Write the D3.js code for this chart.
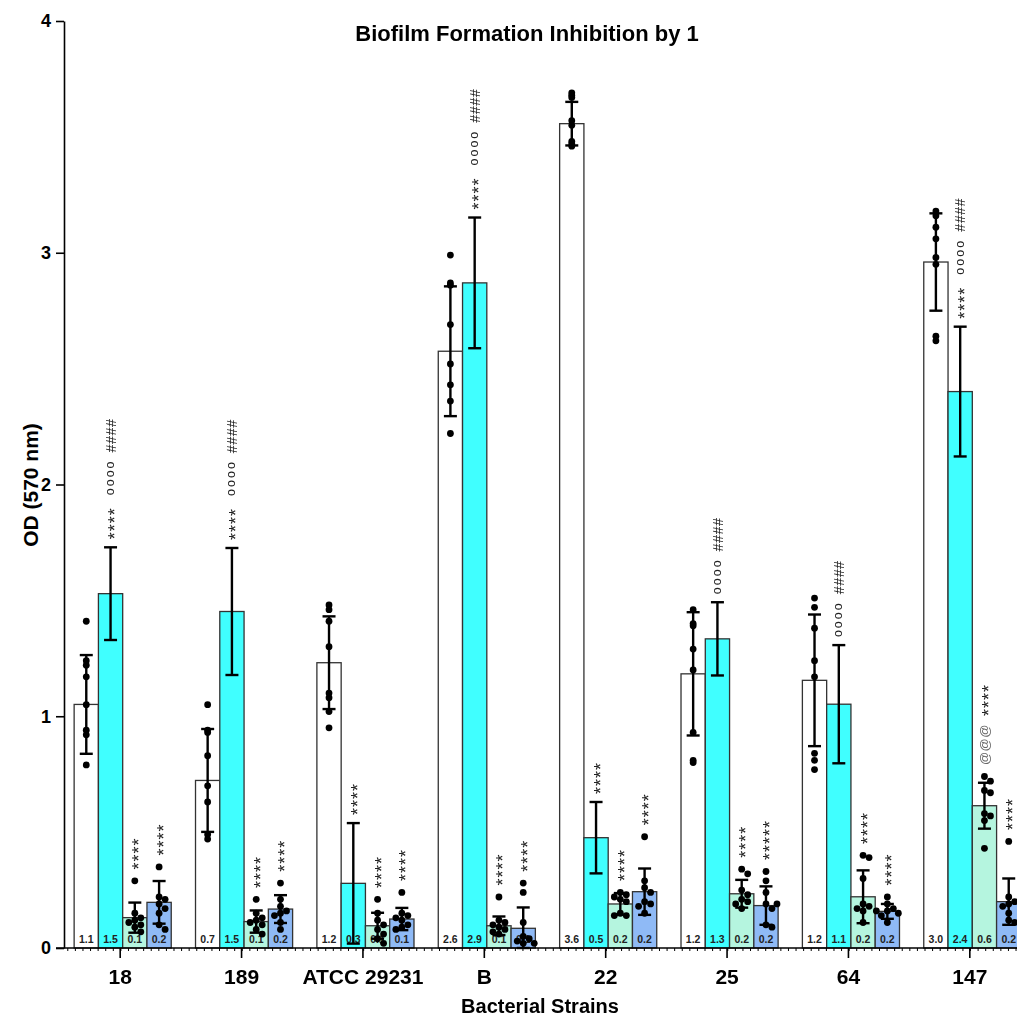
<!DOCTYPE html>
<html>
<head>
<meta charset="utf-8">
<script src="https://cdn.jsdelivr.net/npm/d3@7/dist/d3.min.js"></script>
<style>
  html, body { margin: 0; padding: 0; background: #fff; }
  svg { display: block; font-family: "Liberation Sans", Arial, Helvetica, sans-serif; }
  .marks { opacity: 0.999; will-change: transform; }
</style>
</head>
<body>
<svg id="chart" width="1017" height="1017"></svg>
<script>
// ---- data ----
const strains = ["18", "189", "ATCC 29231", "B", "22", "25", "64", "147"];
const seriesKeys = ["untreated", "dose1", "dose2", "dose3"];
const seriesFill = ["#ffffff", "#40ffff", "#b5f5df", "#8fbaf6"];

// mean OD per strain
const untreatedMean = [1.051, 0.723, 1.231, 2.575, 3.557, 1.183, 1.155, 2.960];
const dose1Mean     = [1.529, 1.452, 0.279, 2.870, 0.476, 1.334, 1.052, 2.401];
const dose2Mean     = [0.131, 0.114, 0.096, 0.096, 0.190, 0.234, 0.221, 0.614];
const dose3Mean     = [0.197, 0.168, 0.125, 0.085, 0.243, 0.183, 0.158, 0.200];

// standard deviation per strain
const untreatedSD = [0.213, 0.222, 0.200, 0.280, 0.094, 0.266, 0.284, 0.210];
const dose1SD     = [0.200, 0.274, 0.260, 0.282, 0.154, 0.158, 0.255, 0.280];
const dose2SD     = [0.065, 0.048, 0.056, 0.040, 0.047, 0.060, 0.114, 0.099];
const dose3SD     = [0.092, 0.060, 0.048, 0.090, 0.100, 0.083, 0.032, 0.100];

// individual replicates (dose1 replicates are not plotted)
const untreatedPts = [
  [1.41, 1.24, 1.22, 1.17, 1.05, 0.94, 0.92, 0.79],
  [1.05, 0.94, 0.93, 0.83, 0.70, 0.63, 0.49, 0.47],
  [1.48, 1.46, 1.41, 1.30, 1.10, 1.08, 1.02, 0.95],
  [2.99, 2.87, 2.86, 2.69, 2.52, 2.43, 2.36, 2.22],
  [3.69, 3.68, 3.67, 3.57, 3.55, 3.48, 3.47, 3.46],
  [1.46, 1.40, 1.39, 1.29, 1.20, 0.93, 0.81, 0.80],
  [1.51, 1.47, 1.38, 1.24, 1.17, 0.84, 0.81, 0.77],
  [3.18, 3.16, 3.11, 3.06, 2.98, 2.95, 2.64, 2.62]
];
const dose2Pts = [
  [0.29, 0.15, 0.13, 0.12, 0.11, 0.10, 0.09, 0.07],
  [0.21, 0.15, 0.13, 0.12, 0.11, 0.10, 0.08, 0.06],
  [0.21, 0.15, 0.12, 0.10, 0.08, 0.06, 0.04, 0.02],
  [0.22, 0.12, 0.11, 0.10, 0.09, 0.08, 0.07, 0.06],
  [0.24, 0.23, 0.22, 0.21, 0.20, 0.15, 0.14, 0.14],
  [0.34, 0.32, 0.25, 0.23, 0.21, 0.20, 0.19, 0.17],
  [0.40, 0.39, 0.30, 0.19, 0.18, 0.17, 0.16, 0.11],
  [0.74, 0.72, 0.68, 0.67, 0.58, 0.57, 0.55, 0.43]
];
const dose3Pts = [
  [0.35, 0.22, 0.21, 0.19, 0.17, 0.15, 0.10, 0.08],
  [0.28, 0.21, 0.18, 0.16, 0.15, 0.14, 0.11, 0.08],
  [0.24, 0.15, 0.14, 0.13, 0.12, 0.10, 0.09, 0.08],
  [0.28, 0.24, 0.11, 0.05, 0.04, 0.03, 0.02, 0.02],
  [0.48, 0.29, 0.26, 0.24, 0.20, 0.19, 0.18, 0.15],
  [0.33, 0.29, 0.24, 0.19, 0.19, 0.17, 0.10, 0.09],
  [0.22, 0.19, 0.17, 0.16, 0.16, 0.15, 0.14, 0.11],
  [0.46, 0.22, 0.20, 0.19, 0.18, 0.15, 0.12, 0.11]
];

// significance marks, listed from bottom to top
const dose1Marks = [["****","oooo","####"], ["****","oooo","####"], ["****"], ["****","oooo","####"],
                    ["****"], ["oooo","####"], ["oooo","####"], ["****","oooo","####"]];
const dose2Marks = [["****"], ["****"], ["****"], ["****"], ["****"], ["****"], ["****"], ["@@@","****"]];
const dose3Marks = [["****"], ["****"], ["****"], ["****"], ["****"], ["*****"], ["****"], ["****"]];

const yTicks = [0, 1, 2, 3, 4];

// ---- assemble records ----
const means = [untreatedMean, dose1Mean, dose2Mean, dose3Mean];
const sds = [untreatedSD, dose1SD, dose2SD, dose3SD];
const pts = [untreatedPts, null, dose2Pts, dose3Pts];
const marks = [null, dose1Marks, dose2Marks, dose3Marks];
const spread = [false, false, true, true];

const records = [];
strains.forEach((s, i) => {
  seriesKeys.forEach((k, j) => {
    records.push({
      strain: s, key: k, si: j,
      mean: means[j][i], sd: sds[j][i],
      points: pts[j] ? pts[j][i] : [],
      marks: marks[j] ? marks[j][i] : [],
      fill: seriesFill[j], spread: spread[j]
    });
  });
});

// ---- scales ----
const svg = d3.select("#chart");
svg.append("rect").attr("width", 1017).attr("height", 1017).attr("fill", "#fff");

const y = d3.scaleLinear().domain([0, 4]).range([948, 21]);
const x0 = d3.scaleBand().domain(strains).range([62, 1033]).paddingInner(0.2).paddingOuter(0.1);
const x1 = d3.scaleBand().domain(seriesKeys).range([0, x0.bandwidth()]);
const bw = x1.bandwidth();
const xc = d => x0(d.strain) + x1(d.key) + bw / 2;

const plot = svg.append("g");

// bars
plot.selectAll("rect.bar").data(records).join("rect")
  .attr("class", "bar")
  .attr("x", d => x0(d.strain) + x1(d.key))
  .attr("y", d => y(d.mean))
  .attr("width", bw)
  .attr("height", d => y(0) - y(d.mean))
  .attr("fill", d => d.fill)
  .attr("stroke", "#333")
  .attr("stroke-width", 1.3);

// value labels inside bars
plot.selectAll("text.val").data(records).join("text")
  .attr("class", "val")
  .attr("x", d => xc(d))
  .attr("y", 943)
  .attr("text-anchor", "middle")
  .attr("font-size", 10.5)
  .attr("font-weight", "bold")
  .attr("fill", "#222")
  .text(d => d3.format(".1f")(d.mean));

// replicate dots, spread sideways where they crowd
const R = 3.4;
function placeDots(d) {
  const cx = xc(d);
  const placed = [];
  const sorted = d.points.slice().sort((a, b) => b - a);
  sorted.forEach(v => {
    const py = y(v);
    let px = cx;
    if (d.spread) {
      const offs = [0, 6, -6, 11, -11, 3, -3, 8.5, -8.5];
      for (const o of offs) {
        const ok = placed.every(p => Math.hypot(p.x - (cx + o), p.y - py) >= 2 * R * 0.92);
        if (ok) { px = cx + o; break; }
      }
    }
    placed.push({ x: px, y: py });
  });
  return placed;
}
records.forEach(d => { d.dots = placeDots(d); });

plot.selectAll("g.dots").data(records).join("g")
  .attr("class", "dots")
  .selectAll("circle").data(d => d.dots).join("circle")
  .attr("cx", p => p.x).attr("cy", p => p.y).attr("r", R).attr("fill", "#000");

// error bars
const cap = 6.5;
const eb = plot.selectAll("g.err").data(records).join("g").attr("class", "err")
  .attr("stroke", "#000").attr("stroke-width", 2.4);
eb.append("line")
  .attr("x1", d => xc(d)).attr("x2", d => xc(d))
  .attr("y1", d => y(Math.max(0, d.mean - d.sd))).attr("y2", d => y(d.mean + d.sd));
eb.append("line")
  .attr("x1", d => xc(d) - cap).attr("x2", d => xc(d) + cap)
  .attr("y1", d => y(d.mean + d.sd)).attr("y2", d => y(d.mean + d.sd));
eb.append("line")
  .attr("x1", d => xc(d) - cap).attr("x2", d => xc(d) + cap)
  .attr("y1", d => y(Math.max(0, d.mean - d.sd))).attr("y2", d => y(Math.max(0, d.mean - d.sd)));

// significance marks, rotated and stacked above the bar
const markStyle = {
  "****": { size: 18, spacing: 1, dy: "0.58em", fill: "#222", gap: 12 },
  "*****": { size: 18, spacing: 1, dy: "0.58em", fill: "#222", gap: 12 },
  "oooo": { size: 12.5, spacing: 2, dy: "0.27em", fill: "#222", gap: 7 },
  "####": { size: 14.5, spacing: 0.4, dy: "0.36em", fill: "#222", gap: 7 },
  "@@@": { size: 13, spacing: 0.5, dy: "0.36em", fill: "#666", gap: 8 }
};
const markLayer = plot.append("g").attr("class", "marks");
records.filter(d => d.marks.length).forEach(d => {
  const cx = xc(d);
  let top = y(d.mean + d.sd);
  d.dots.forEach(p => { top = Math.min(top, p.y - R); });
  let cursor = top - 8;
  d.marks.forEach(m => {
    const st = markStyle[m];
    const t = markLayer.append("text")
      .attr("transform", `translate(${cx},${cursor}) rotate(-90)`)
      .attr("dy", st.dy)
      .attr("font-size", st.size)
      .attr("letter-spacing", st.spacing)
      .attr("fill", st.fill)
      .text(m);
    cursor -= t.node().getComputedTextLength() + st.gap;
  });
});

// ---- axes ----
const yAxis = svg.append("g")
  .attr("transform", "translate(64,0)")
  .call(d3.axisLeft(y).tickValues(yTicks).tickFormat(d3.format("d")).tickSize(8).tickSizeOuter(0).tickPadding(5));
yAxis.select(".domain").attr("stroke", "#000").attr("stroke-width", 1.6);
yAxis.selectAll(".tick line").attr("stroke", "#000").attr("stroke-width", 1.6);
yAxis.selectAll(".tick text").attr("font-size", 18).attr("font-weight", "bold")
  .attr("font-family", "Liberation Sans, Arial, sans-serif").attr("fill", "#000");

// x axis: baseline, minor ticks, group ticks and labels
const xAxis = svg.append("g");
xAxis.append("line").attr("x1", 56).attr("x2", 1017).attr("y1", y(0)).attr("y2", y(0))
  .attr("stroke", "#000").attr("stroke-width", 1.6);
const minorStep = x0.step() / 16;
xAxis.selectAll("line.minor").data(d3.range(64 + minorStep / 2, 1017, minorStep)).join("line")
  .attr("class", "minor")
  .attr("x1", d => d).attr("x2", d => d)
  .attr("y1", y(0)).attr("y2", y(0) + 3)
  .attr("stroke", "#000").attr("stroke-width", 1);
const tickX = s => x0(s) + x0.bandwidth() / 2 - 2.5;
xAxis.selectAll("line.major").data(strains).join("line")
  .attr("class", "major")
  .attr("x1", tickX).attr("x2", tickX)
  .attr("y1", y(0)).attr("y2", y(0) + 10)
  .attr("stroke", "#000").attr("stroke-width", 1.6);
xAxis.selectAll("text.cat").data(strains).join("text")
  .attr("class", "cat")
  .attr("x", tickX).attr("y", 984)
  .attr("text-anchor", "middle")
  .attr("font-size", 21).attr("font-weight", "bold")
  .text(d => d);

// titles
svg.append("text").attr("x", 527).attr("y", 41).attr("text-anchor", "middle")
  .attr("font-size", 22).attr("font-weight", "bold")
  .text("Biofilm Formation Inhibition by 1");
svg.append("text").attr("x", 540).attr("y", 1013).attr("text-anchor", "middle")
  .attr("font-size", 20).attr("font-weight", "bold")
  .text("Bacterial Strains");
svg.append("text").attr("transform", "translate(38,485) rotate(-90)")
  .attr("text-anchor", "middle")
  .attr("font-size", 21).attr("font-weight", "bold")
  .text("OD (570 nm)");
</script>
</body>
</html>
